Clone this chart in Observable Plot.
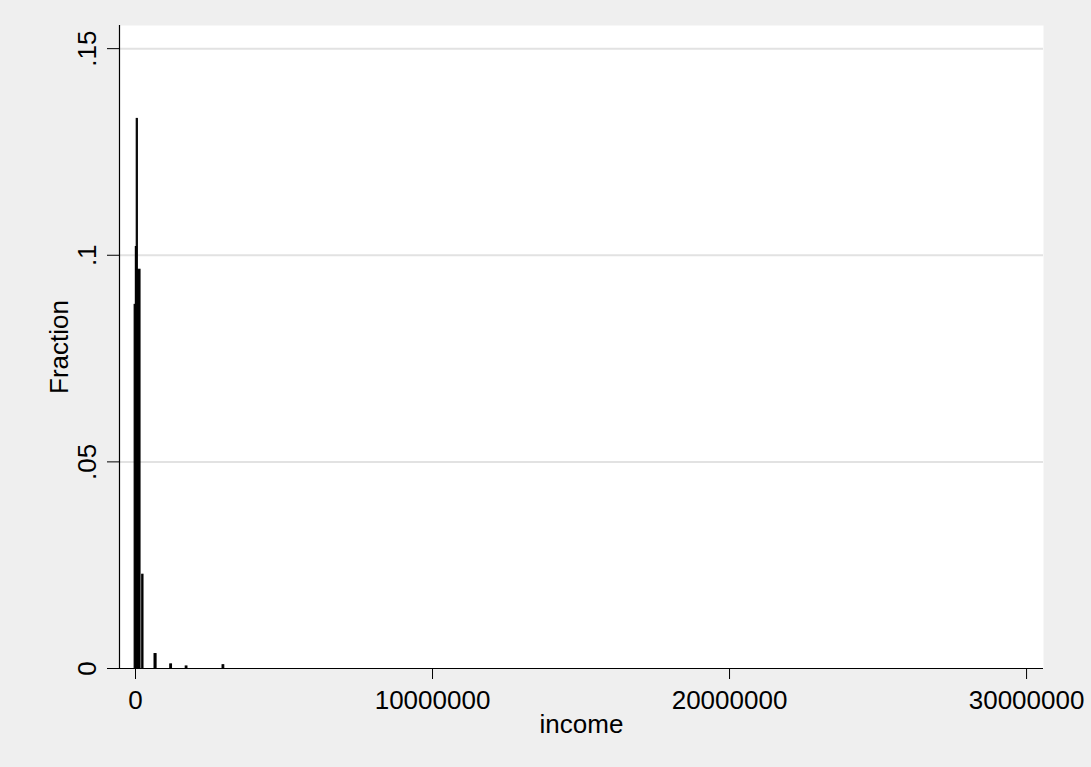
<!DOCTYPE html>
<html>
<head>
<meta charset="utf-8">
<script src="https://cdn.jsdelivr.net/npm/d3@7"></script>
<script src="https://cdn.jsdelivr.net/npm/@observablehq/plot@0.6"></script>
<style>
  html, body { margin: 0; padding: 0; background: #efefef; }
  #chart { width: 1091px; height: 767px; }
</style>
</head>
<body>
<div id="chart"></div>
<script>
// Histogram bins (income ranges) and fractions
const binLo    = [-30000, 10000, 40000, 80000, 225000, 640000, 1170000, 1690000, 2930000];
const binHi    = [ 10000, 40000, 80000, 170000, 270000, 710000, 1230000, 1750000, 2990000];
const fraction = [ 0.088, 0.102, 0.133, 0.0965, 0.0227, 0.0035, 0.001, 0.0005, 0.0008];

const xTicks = [0, 10000000, 20000000, 30000000];
const xTickLabels = ["0", "10000000", "20000000", "30000000"];
const yTicks = [0, 0.05, 0.1, 0.15];
const yTickLabels = ["0", ".05", ".1", ".15"];
const xTitle = "income";
const yTitle = "Fraction";

const bars = binLo.map((lo, i) => ({lo, hi: binHi[i], f: fraction[i]}));
const xT = xTicks.map((v, i) => ({v, label: xTickLabels[i]}));
const yT = yTicks.map((v, i) => ({v, label: yTickLabels[i]}));

const font = "'Liberation Sans', Arial, Helvetica, sans-serif";

const chart = Plot.plot({
  width: 1091,
  height: 767,
  marginLeft: 119,
  marginRight: 48,
  marginTop: 25,
  marginBottom: 99,
  style: {background: "#efefef", fontFamily: font, fontSize: "26px", color: "black"},
  x: {domain: [-538700, 30570000]},
  y: {domain: [0, 0.1556]},
  marks: [
    Plot.frame({fill: "white", stroke: null}),
    Plot.gridY(yTicks.filter(d => d > 0), {stroke: "#e2e2e2", strokeOpacity: 1, strokeWidth: 2}),
    Plot.rectY(bars, {x1: "lo", x2: "hi", y: "f", fill: "black", stroke: "black", strokeWidth: 1}),
    Plot.axisX({ticks: xTicks, tickSize: 11, tickFormat: () => "", label: null, stroke: "black"}),
    Plot.axisY({ticks: yTicks, tickSize: 12, tickFormat: () => "", label: null, stroke: "black"}),
    Plot.ruleY([0], {stroke: "black", strokeWidth: 1.2}),
    Plot.ruleX([-538700], {stroke: "black", strokeWidth: 1.2}),
    Plot.text(xT, {x: "v", text: "label", frameAnchor: "bottom", lineAnchor: "top", dy: 22, fontSize: 26, fill: "black"}),
    Plot.text(yT, {y: "v", text: "label", frameAnchor: "left", rotate: -90, lineAnchor: "middle", textAnchor: "middle", dx: -32, fontSize: 26, fill: "black"}),
    Plot.text([xTitle], {text: d => d, frameAnchor: "bottom", lineAnchor: "top", dy: 46, fontSize: 26, fill: "black"}),
    Plot.text([yTitle], {text: d => d, frameAnchor: "left", rotate: -90, lineAnchor: "middle", textAnchor: "middle", dx: -60, fontSize: 26, fill: "black"})
  ]
});
document.getElementById("chart").appendChild(chart);
</script>
</body>
</html>
